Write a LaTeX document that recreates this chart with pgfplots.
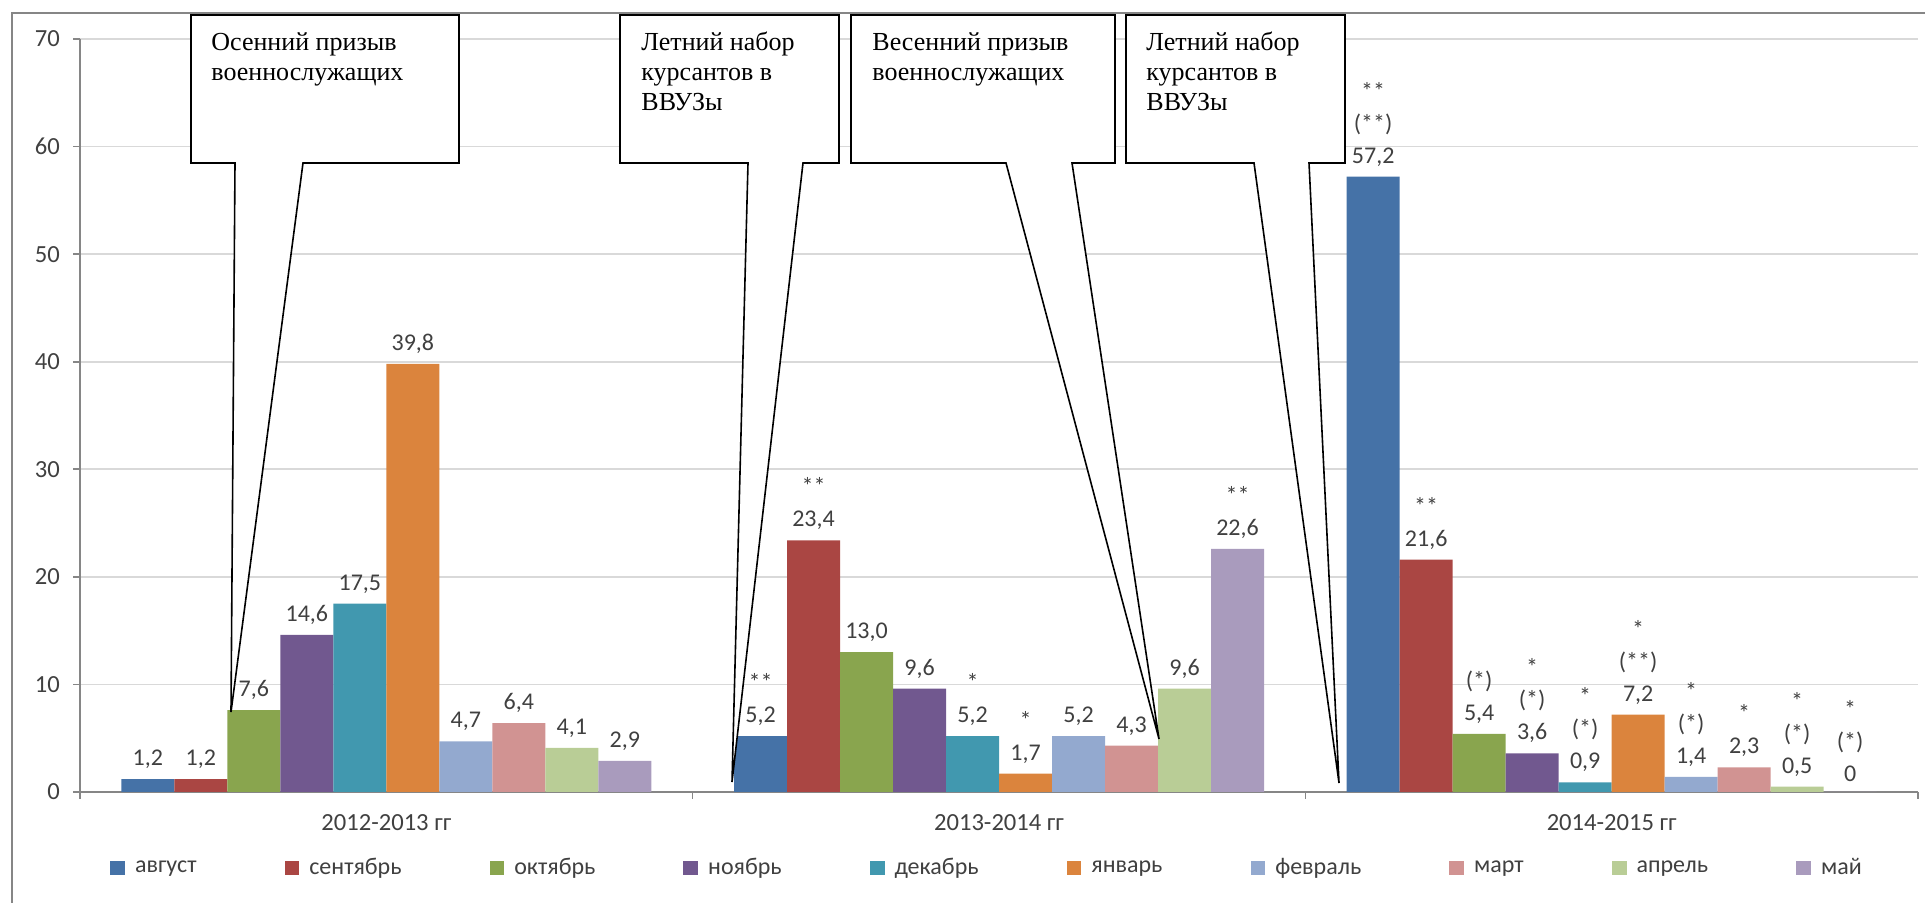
\documentclass[border=0pt]{standalone}
\usepackage{pgfplots}
\pgfplotsset{compat=1.18}
\usepackage{fontspec}
\setmainfont{Carlito}
\newfontfamily\tnr{Liberation Serif}
\definecolor{c1}{HTML}{4572A7}
\definecolor{c2}{HTML}{AA4643}
\definecolor{c3}{HTML}{89A54E}
\definecolor{c4}{HTML}{71588F}
\definecolor{c5}{HTML}{4198AF}
\definecolor{c6}{HTML}{DB843D}
\definecolor{c7}{HTML}{93A9CF}
\definecolor{c8}{HTML}{D19392}
\definecolor{c9}{HTML}{B9CD96}
\definecolor{c10}{HTML}{A99BBD}
\definecolor{txt}{HTML}{404040}
\definecolor{axl}{HTML}{868686}
\definecolor{grd}{HTML}{D9D9D9}
\protected\def\br{\\}
\begin{document}
\begin{tikzpicture}
\useasboundingbox (0,0) rectangle (962.5pt,451.5pt);
\begin{axis}[
  at={(40pt,55.5pt)}, anchor=south west,
  scale only axis, width=919pt, height=376.5pt,
  xmin=-0.5, xmax=2.5, ymin=0, ymax=70,
  ybar=0pt, bar width=26.5pt,
  xtick={-0.5,0.5,1.5,2.5}, xticklabels={},
  extra x ticks={0,1,2},
  extra x tick labels={2012-2013 гг,2013-2014 гг,2014-2015 гг},
  extra x tick style={major tick length=0pt, grid=none},
  ytick={0,10,...,70},
  ymajorgrids, major grid style={grd, line width=0.9pt},
  axis x line*=bottom, axis y line*=left,
  axis line style={axl, line width=0.8pt, -},
  tick align=outside, major tick length=3.5pt,
  tick style={axl, line width=0.8pt},
  /pgf/number format/assume math mode=true,
  ticklabel style={font=\fontsize{12.3}{14}\selectfont, text=txt},
  yticklabel style={xshift=-3pt},
  xticklabel style={yshift=-7.5pt},
  point meta=explicit symbolic,
  nodes near coords,
  every node near coord/.append style={font=\fontsize{12}{16}\selectfont, text=txt, align=center, anchor=south, inner sep=1pt, yshift=4pt},
  legend columns=10,
  legend style={at={(0.494,-0.101)}, anchor=center, draw=none, fill=none,
    font=\fontsize{12}{14}\selectfont, text=txt,
    /tikz/every even column/.append style={column sep=42pt},
    /tikz/every odd column/.append style={column sep=3pt}},
  legend image code/.code={\fill[#1,draw=none] (0pt,-3.7pt) rectangle (7.4pt,3.7pt);},
]
\addplot[fill=c1,draw=none] coordinates {(0,1.2)[1,2] (1,5.2)[**\br 5,2] (2,57.2)[**\br(**)\br 57,2]};
\addplot[fill=c2,draw=none] coordinates {(0,1.2)[1,2] (1,23.4)[**\br 23,4] (2,21.6)[**\br 21,6]};
\addplot[fill=c3,draw=none] coordinates {(0,7.6)[7,6] (1,13.0)[13,0] (2,5.4)[(*)\br 5,4]};
\addplot[fill=c4,draw=none] coordinates {(0,14.6)[14,6] (1,9.6)[9,6] (2,3.6)[*\br(*)\br 3,6]};
\addplot[fill=c5,draw=none] coordinates {(0,17.5)[17,5] (1,5.2)[*\br 5,2] (2,0.9)[*\br(*)\br 0,9]};
\addplot[fill=c6,draw=none] coordinates {(0,39.8)[39,8] (1,1.7)[*\br 1,7] (2,7.2)[*\br(**)\br 7,2]};
\addplot[fill=c7,draw=none] coordinates {(0,4.7)[4,7] (1,5.2)[5,2] (2,1.4)[*\br(*)\br 1,4]};
\addplot[fill=c8,draw=none] coordinates {(0,6.4)[6,4] (1,4.3)[4,3] (2,2.3)[*\br 2,3]};
\addplot[fill=c9,draw=none] coordinates {(0,4.1)[4,1] (1,9.6)[9,6] (2,0.5)[*\br(*)\br 0,5]};
\addplot[fill=c10,draw=none] coordinates {(0,2.9)[2,9] (1,22.6)[**\br 22,6] (2,0)[*\br(*)\br 0]};
\legend{август,сентябрь,октябрь,ноябрь,декабрь,январь,февраль,март,апрель,май}
\end{axis}
\begin{scope}[shift={(0,451.5pt)}, x=0.5pt, y=-0.5pt]
\draw[axl, line width=1pt] (12,903) -- (12,13) -- (1925,13);
\tikzset{callout/.style={draw=black, line width=0.8pt, fill=white}, ctext/.style={anchor=north west, align=left, inner sep=0pt, font=\tnr\fontsize{13}{15}\selectfont}}
\draw[callout] (191,15) -- (459,15) -- (459,163) -- (303,163) -- (231,712) -- (235,163) -- (191,163) -- cycle;
\draw[callout] (620,15) -- (839,15) -- (839,163) -- (803,163) -- (732,782) -- (748,163) -- (620,163) -- cycle;
\draw[callout] (851,15) -- (1115,15) -- (1115,163) -- (1072,163) -- (1159,739) -- (1006,163) -- (851,163) -- cycle;
\draw[callout] (1126,15) -- (1345,15) -- (1345,163) -- (1309,163) -- (1339,783) -- (1254,163) -- (1126,163) -- cycle;
\node[ctext] at (211,32) {Осенний призыв\\военнослужащих};
\node[ctext] at (641,32) {Летний набор\\курсантов в\\ВВУЗы};
\node[ctext] at (872,32) {Весенний призыв\\военнослужащих};
\node[ctext] at (1146,32) {Летний набор\\курсантов в\\ВВУЗы};
\end{scope}
\end{tikzpicture}
\end{document}
